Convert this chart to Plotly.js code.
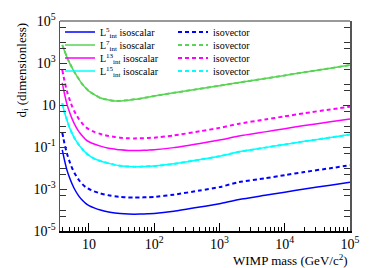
<!DOCTYPE html>
<html><head><meta charset="utf-8">
<script src="https://cdn.plot.ly/plotly-3.0.1.min.js"></script>
<style>html,body{margin:0;padding:0;background:#fff}#c{width:374px;height:268px}</style>
</head><body><div id="c"></div>
<script>
// WIMP mass (GeV/c^2)
const mass = [3.9, 4.2, 4.6, 5, 5.5, 6, 7, 8, 9, 10, 12, 15, 20, 25, 30, 40, 50, 60, 80, 100, 200, 500, 1000, 2000, 5000, 1e4, 2e4, 5e4, 1e5];

const L5iso = [7.24e-2, 2.51e-2, 7.94e-3, 3.72e-3, 1.78e-3, 1.0e-3, 4.57e-4, 2.82e-4, 2.0e-4, 1.62e-4, 1.26e-4, 1.0e-4, 8.13e-5, 7.24e-5, 6.76e-5, 6.38e-5, 6.31e-5, 6.38e-5, 6.61e-5, 6.84e-5, 8.71e-5, 1.38e-4, 2.0e-4, 3.16e-4, 5.01e-4, 7.08e-4, 1.0e-3, 1.51e-3, 2.09e-3];
const L5vec = [0.49, 0.155, 0.049, 0.0219, 0.0102, 5.75e-3, 2.69e-3, 1.66e-3, 1.20e-3, 1.0e-3, 7.76e-4, 6.17e-4, 5.01e-4, 4.47e-4, 4.17e-4, 3.94e-4, 3.89e-4, 3.94e-4, 4.07e-4, 4.22e-4, 5.37e-4, 8.51e-4, 1.23e-3, 2.14e-3, 3.24e-3, 4.57e-3, 6.46e-3, 9.77e-3, 1.35e-2];
const L7iso = [7244, 3981, 1905, 1072, 603, 363, 170, 93.3, 63.1, 45.7, 31.6, 21.4, 17.4, 15.7, 15.5, 17.0, 18.6, 20.0, 23.4, 26.9, 38.0, 58.9, 83.2, 117, 182, 257, 363, 562, 794];
const L7vec = [7244, 3981, 1905, 1072, 603, 363, 170, 93.3, 63.1, 45.7, 31.6, 21.4, 17.4, 15.7, 15.5, 17.0, 18.6, 20.0, 23.4, 26.9, 38.0, 58.9, 83.2, 117, 182, 257, 363, 562, 794];
const L13iso = [112, 36.3, 11.0, 4.90, 2.24, 1.23, 0.537, 0.324, 0.219, 0.178, 0.138, 0.110, 0.0881, 0.0794, 0.0733, 0.0684, 0.0676, 0.0684, 0.0708, 0.0733, 0.0933, 0.148, 0.214, 0.331, 0.525, 0.741, 1.05, 1.58, 2.14];
const L13vec = [468, 151, 44.7, 20.0, 8.91, 4.90, 2.14, 1.26, 0.871, 0.692, 0.525, 0.417, 0.335, 0.299, 0.279, 0.260, 0.257, 0.260, 0.269, 0.279, 0.355, 0.562, 0.813, 1.29, 2.04, 2.88, 4.07, 6.17, 8.32];
const L15iso = [12.0, 4.79, 1.91, 0.891, 0.447, 0.263, 0.126, 0.0759, 0.0525, 0.0398, 0.0282, 0.0214, 0.0166, 0.0141, 0.0129, 0.0117, 0.0115, 0.0116, 0.0120, 0.0124, 0.0158, 0.0251, 0.0363, 0.0589, 0.0933, 0.132, 0.186, 0.282, 0.389];
const L15vec = [12.0, 4.79, 1.91, 0.891, 0.447, 0.263, 0.126, 0.0759, 0.0525, 0.0398, 0.0282, 0.0214, 0.0166, 0.0141, 0.0129, 0.0117, 0.0115, 0.0116, 0.0120, 0.0124, 0.0158, 0.0251, 0.0363, 0.0589, 0.0933, 0.132, 0.186, 0.282, 0.389];

const names = ['L<sup>5</sup><sub>int</sub> isoscalar', 'L<sup>7</sup><sub>int</sub> isoscalar', 'L<sup>13</sup><sub>int</sub> isoscalar', 'L<sup>15</sup><sub>int</sub> isoscalar'];
const vecName = 'isovector';
const xTickVals = [10, 100, 1000, 1e4, 1e5];
const xTickText = ['10', '10<sup>2</sup>', '10<sup>3</sup>', '10<sup>4</sup>', '10<sup>5</sup>'];
const yTickVals = [1e-5, 1e-3, 1e-1, 10, 1e3, 1e5];
const yTickText = ['10<sup>-5</sup>', '10<sup>-3</sup>', '10<sup>-1</sup>', '10', '10<sup>3</sup>', '10<sup>5</sup>'];

const colors = ['#0000ff', '#59d454', '#ff00ff', '#00ffff'];
const isoSets = [L5iso, L7iso, L13iso, L15iso];
const vecSets = [L5vec, L7vec, L13vec, L15vec];
const legendIds = ['legend', 'legend2', 'legend3', 'legend4'];

const traces = [];
for (let i = 0; i < 4; i++) {
  traces.push({x: mass, y: isoSets[i], type: 'scatter', mode: 'lines', name: names[i],
    line: {color: colors[i], width: 1.5, shape: 'spline', smoothing: 0.6}, legend: legendIds[i]});
  traces.push({x: mass, y: vecSets[i], type: 'scatter', mode: 'lines', name: vecName,
    line: {color: colors[i], width: 2, dash: '4px,3px', shape: 'spline', smoothing: 0.6}, legend: legendIds[i]});
}

const xMinor = [];
for (let e = 0; e < 5; e++) for (let d = 2; d <= 9; d++) { const v = d * Math.pow(10, e); if (v > 3.6 && v < 1e5) xMinor.push(v); }
const yMinor = [];
for (let e = -5; e < 5; e++) { yMinor.push(5 * Math.pow(10, e)); if ((e + 5) % 2 === 1) yMinor.push(Math.pow(10, e)); }

const font = {family: '"Liberation Serif", "Times New Roman", serif', color: '#000'};
const rowY = [0.948, 0.886, 0.824, 0.762];
const layout = {
  width: 374, height: 268,
  margin: {l: 60, r: 24, t: 21, b: 37, pad: 0},
  paper_bgcolor: '#fff', plot_bgcolor: '#fff',
  font: Object.assign({size: 13}, font),
  xaxis: {type: 'log', range: [Math.log10(3.6), 5], tickmode: 'array', tickvals: xTickVals, ticktext: xTickText,
    ticks: 'inside', ticklen: 8, tickcolor: '#000', showline: true, linecolor: '#000', linewidth: 1.5,
    showgrid: false, zeroline: false, tickfont: Object.assign({size: 14}, font),
    minor: {tickmode: 'array', tickvals: xMinor, ticks: 'inside', ticklen: 4, tickcolor: '#000', showgrid: false}},
  yaxis: {type: 'log', range: [-5, 5], tickmode: 'array', tickvals: yTickVals, ticktext: yTickText,
    ticks: 'inside', ticklen: 7, tickcolor: '#333', showline: true, linecolor: '#555', linewidth: 1.5, mirror: 'ticks',
    showgrid: false, zeroline: false, tickfont: Object.assign({size: 14}, font),
    minor: {tickmode: 'array', tickvals: yMinor, ticks: 'inside', ticklen: 6, tickcolor: '#333', showgrid: false}},
  shapes: [{type: 'line', xref: 'paper', yref: 'paper', x0: 0, x1: 1, y0: 1, y1: 1, line: {color: '#999', width: 2}}],
  annotations: [
    {text: 'WIMP mass (GeV/c<sup>2</sup>)', xref: 'paper', yref: 'paper', x: 1, y: -0.138, xanchor: 'right', yanchor: 'middle', showarrow: false, font: Object.assign({size: 13}, font)},
    {text: 'd<sub>i</sub> (dimensionless)', xref: 'paper', yref: 'paper', x: -0.131, y: 1, xanchor: 'center', yanchor: 'top', textangle: -90, showarrow: false, font: Object.assign({size: 13}, font)}
  ],
  showlegend: true
};
legendIds.forEach((id, i) => {
  layout[id] = {x: 0.0, y: rowY[i], xanchor: 'left', yanchor: 'middle', orientation: 'h',
    bgcolor: 'rgba(0,0,0,0)', borderwidth: 0, entrywidth: 68, entrywidthmode: 'pixels',
    font: Object.assign({size: 10}, font), itemwidth: 30, tracegroupgap: 0};
});
Plotly.newPlot('c', traces, layout, {displayModeBar: false, staticPlot: true});
</script></body></html>
